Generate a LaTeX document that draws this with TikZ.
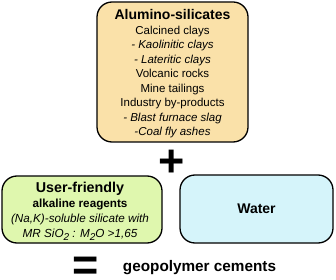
\documentclass[tikz,border=0pt]{standalone}
\usepackage{fontspec}
\setmainfont{Liberation Sans}
\definecolor{tanfill}{HTML}{FAE1A9}
\definecolor{greenfill}{HTML}{DFF7AE}
\definecolor{bluefill}{HTML}{D5F4FA}
\begin{document}
\begin{tikzpicture}[x=1pt,y=-1pt,
  box/.style={draw=black, line width=1.3pt, rounded corners=15pt, inner sep=0pt},
  txt/.style={align=center, inner sep=0pt},
  sym/.style={inner sep=0pt, font=\bfseries\fontsize{45}{45}\selectfont}]
\useasboundingbox (0,0) rectangle (336,280);
% boxes
\node[box, fill=tanfill, minimum width=151pt, minimum height=140pt] (alumino) at (172.5,72) {};
\node[box, fill=greenfill, minimum width=160pt, minimum height=67pt] (reagents) at (82,209.5) {};
\node[box, fill=bluefill, minimum width=153pt, minimum height=68pt] (water) at (256.5,209) {};
% texts
\node[txt, font=\fontsize{11.5}{14.5}\selectfont] (alutext) at (172.5,74)
 {{\bfseries\fontsize{14}{14.5}\selectfont Alumino-silicates}\\
  Calcined clays\\
  \textit{- Kaolinitic clays}\\
  \textit{- Lateritic clays}\\
  Volcanic rocks\\
  Mine tailings\\
  Industry by-products\\
  \textit{- Blast furnace slag}\\
  \textit{-Coal fly ashes}};
\node[txt, font=\fontsize{11.7}{15}\selectfont] (reagtext) at (80,211)
 {{\bfseries\fontsize{14.3}{15}\selectfont User-friendly}\\
  \textbf{alkaline reagents}\\
  \textit{(Na,K)-soluble silicate with}\\
  \textit{MR SiO\raisebox{-0.45ex}{\fontsize{10}{10}\selectfont 2} : M\raisebox{-0.45ex}{\fontsize{10}{10}\selectfont 2}O >1,65}};
\node[txt, font=\bfseries\fontsize{14}{17}\selectfont] (watertext) at (water.center) {Water};
\node[sym] (plus) at (171.5,163.5) {+};
\node[sym] (equals) at (86,268.5) {=};
\node[txt, font=\bfseries\fontsize{15.3}{18}\selectfont] (result) at (199.5,268) {geopolymer cements};
\end{tikzpicture}
\end{document}
